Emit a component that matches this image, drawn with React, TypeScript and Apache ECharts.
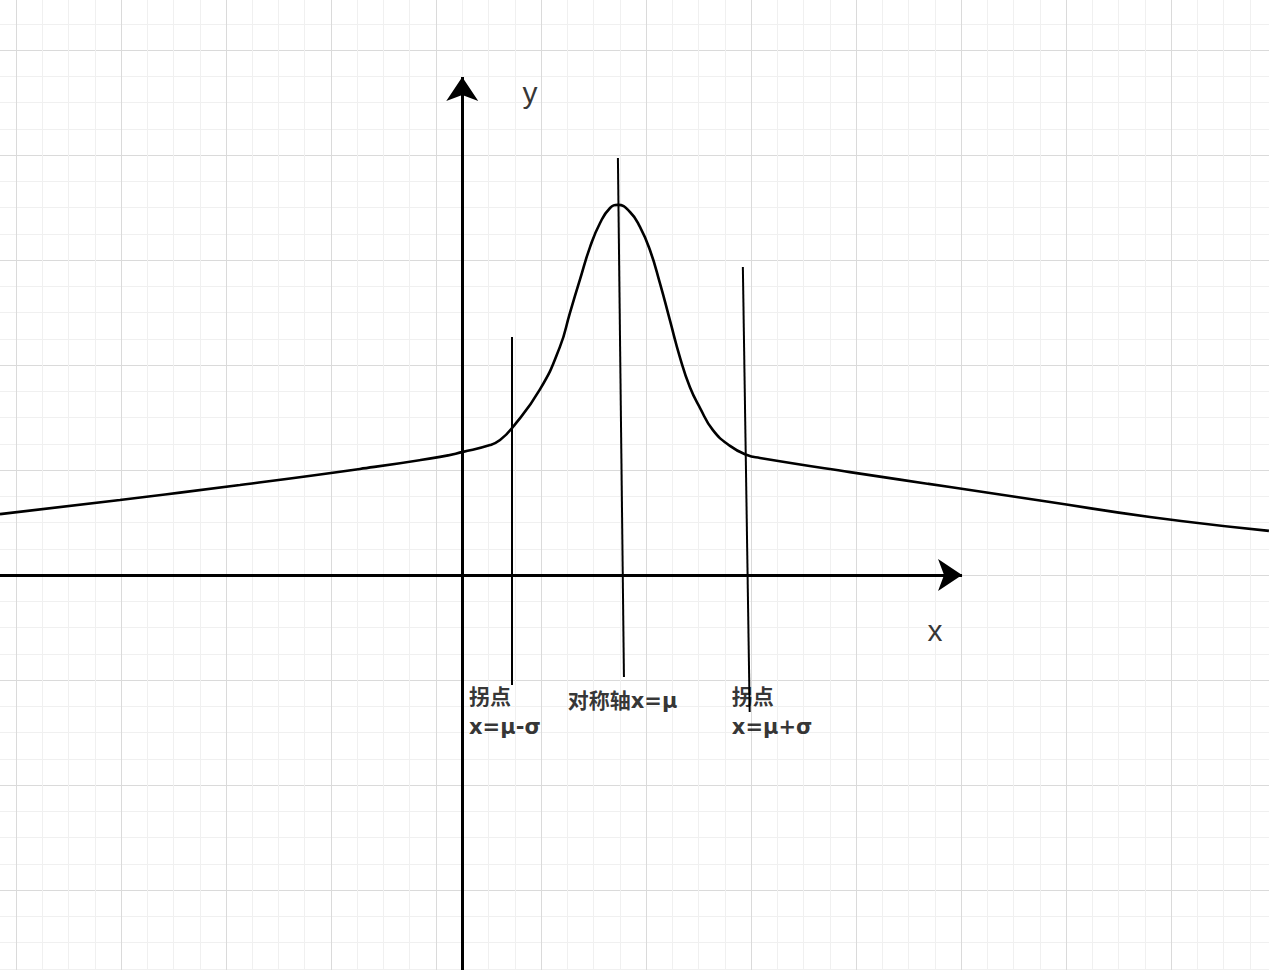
import React, { useEffect, useRef } from "react";
import * as echarts from "echarts";

// Units: one minor grid cell; origin where the two drawn axes cross.
const curveX = [-17.61, -13.04, -8.47, -3.9, -0.85, 0.03, 1.06, 1.44, 1.9, 2.96, 3.72, 4.1, 4.48, 4.87, 5.25, 5.63, 5.93, 6.39, 6.77, 7.15, 7.53, 7.91, 8.29, 8.67, 9.06, 9.55, 10.2, 10.85, 11.34, 14.77, 18.58, 22.39, 26.2, 30.73];
const curveY = [2.32, 2.86, 3.43, 4.04, 4.5, 4.69, 4.95, 5.14, 5.6, 7.07, 8.69, 9.98, 11.24, 12.5, 13.41, 13.98, 14.1, 13.83, 13.26, 12.38, 11.12, 9.71, 8.3, 7.16, 6.36, 5.52, 4.92, 4.57, 4.46, 3.92, 3.35, 2.78, 2.21, 1.68];

// Marker lines: [x1, y1, x2, y2]
const markerLines = [
  [1.9, 9.07, 1.9, -4.19],
  [5.93, 15.89, 6.16, -3.89],
  [10.69, 11.73, 10.95, -5.22],
];

// Axis arrows: [x1, y1, x2, y2]
const axisArrows = [
  [-18.5, 0, 19.04, 0],
  [0, -16.5, 0, 18.97],
];

const labelTexts = ["拐点\nx=μ-σ", "对称轴x=μ", "拐点\nx=μ+σ"];
const labelPos = [
  [0.26, -4.08],
  [4.02, -4.23],
  [10.27, -4.08],
];

const axisNames = ["y", "x"];
const axisNamePos = [
  [2.58, 18.4],
  [18.01, -2.13],
];

// canvas extends past the window so grid lines start on whole units
const OFF_LEFT = 89;
const OFF_TOP = 55;
const W = 1269 + 89 + 7;
const H = 970 + 55 + 25;

export default function App() {
  const ref = useRef<HTMLDivElement>(null);
  useEffect(() => {
    if (!ref.current) return;
    const chart = echarts.init(ref.current, null, { renderer: "svg" });
    const axisCommon = {
      type: "value",
      axisLine: { show: false },
      axisTick: { show: false },
      axisLabel: { show: false },
      interval: 4,
      splitLine: { show: true, lineStyle: { color: "#dadada", width: 1 } },
      minorTick: { show: false, splitNumber: 4 },
      minorSplitLine: { show: true, lineStyle: { color: "#f0f0f0", width: 1 } },
    };
    chart.setOption({
      animation: false,
      backgroundColor: "#ffffff",
      grid: { left: 0, right: 0, top: 0, bottom: 0, show: false },
      xAxis: { ...axisCommon, min: -21, max: 31 },
      yAxis: { ...axisCommon, min: -16, max: 24 },
      series: [
        {
          type: "line",
          data: curveX.map((x, i) => [x, curveY[i]]),
          smooth: 0.5,
          symbol: "none",
          lineStyle: { color: "#000", width: 2.6 },
          z: 3,
        },
        {
          type: "lines",
          coordinateSystem: "cartesian2d",
          symbol: ["none", "none"],
          lineStyle: { color: "#000", width: 2, opacity: 1 },
          data: markerLines.map((l) => ({ coords: [[l[0], l[1]], [l[2], l[3]]] })),
          z: 4,
        },
        {
          type: "lines",
          coordinateSystem: "cartesian2d",
          symbol: ["none", "arrow"],
          symbolSize: [17, 24],
          lineStyle: { color: "#000", width: 3, opacity: 1 },
          itemStyle: { color: "#000" },
          data: axisArrows.map((l) => ({ coords: [[l[0], l[1]], [l[2], l[3]]] })),
          z: 5,
        },
        {
          type: "scatter",
          symbolSize: 0,
          data: labelPos.map((p, i) => ({ value: p, name: labelTexts[i] })),
          label: {
            show: true,
            position: [0, 0],
            align: "left",
            verticalAlign: "top",
            formatter: (p: any) => p.name,
            fontFamily: "'DejaVu Sans', 'Noto Sans CJK SC'",
            fontWeight: "bold",
            fontSize: 21,
            lineHeight: 30,
            color: "#000",
          },
          z: 6,
        },
        {
          type: "scatter",
          symbolSize: 0,
          data: axisNamePos.map((p, i) => ({ value: p, name: axisNames[i] })),
          label: {
            show: true,
            position: [0, 0],
            align: "center",
            verticalAlign: "middle",
            formatter: (p: any) => p.name,
            fontFamily: "Liberation Sans",
            fontSize: 30,
            color: "#000",
          },
          z: 6,
        },
      ],
    });
    return () => chart.dispose();
  }, []);
  return (
    <div
      ref={ref}
      style={{ position: "fixed", left: -OFF_LEFT, top: -OFF_TOP, width: W, height: H }}
    />
  );
}
